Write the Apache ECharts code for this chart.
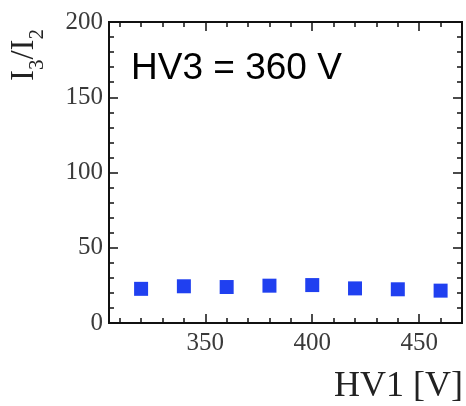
<!DOCTYPE html>
<html>
<head>
<meta charset="utf-8">
<script src="https://cdn.jsdelivr.net/npm/echarts@6/dist/echarts.min.js"></script>
<style>
html,body{margin:0;padding:0;background:#fff;}
#chart{width:466px;height:406px;}
</style>
</head>
<body>
<div id="chart"></div>
<script>
// Data
var hv1 = [320, 340, 360, 380, 400, 420, 440, 460];
var ratio = [22.7, 24.4, 23.9, 24.8, 25.2, 23.0, 22.4, 21.5];
var xMajorTicks = [350, 400, 450];
var xMinorTicks = [310, 320, 330, 340, 360, 370, 380, 390, 410, 420, 430, 440, 460, 470];
var annotation = 'HV3 = 360 V';
var xTitle = 'HV1 [V]';
var yTitle = '{i|I}{s|3}{i|/I}{s|2}';

var chart = echarts.init(document.getElementById('chart'), null, {renderer: 'canvas'});
var serif = 'Liberation Serif';
var tickStyle = {color: '#111', width: 1.5};
var labelFont = {fontFamily: serif, fontSize: 25, color: '#3a3a3a'};

function gridDef() {
  return {left: 109, top: 22, width: 353, height: 301, containLabel: false};
}
function xVisible(g, pos, ticks, len, showLabel) {
  return {
    gridIndex: g, type: 'value', position: pos, min: 305, max: 470,
    axisLine: {show: true, onZero: false, lineStyle: {color: '#111', width: 2}},
    axisTick: {show: true, inside: true, length: len, customValues: ticks, lineStyle: tickStyle},
    axisLabel: showLabel ? Object.assign({show: true, customValues: xMajorTicks, margin: 8}, labelFont) : {show: false},
    splitLine: {show: false}
  };
}
function yVisible(g, pos, showLabel) {
  return {
    gridIndex: g, type: 'value', position: pos, min: 0, max: 200, interval: 50,
    axisLine: {show: true, onZero: false, lineStyle: {color: '#111', width: 2}},
    axisTick: {show: true, inside: true, length: 9, lineStyle: tickStyle},
    minorTick: {show: true, splitNumber: 5, length: 5, lineStyle: tickStyle},
    axisLabel: showLabel ? Object.assign({show: true, margin: 6}, labelFont) : {show: false},
    splitLine: {show: false}, minorSplitLine: {show: false}
  };
}
function xHidden(g) {
  return {gridIndex: g, type: 'value', min: 305, max: 470,
    axisLine: {show: false, onZero: false}, axisTick: {show: false}, axisLabel: {show: false}, splitLine: {show: false}};
}
function yHidden(g) {
  return {gridIndex: g, type: 'value', min: 0, max: 200,
    axisLine: {show: false, onZero: false}, axisTick: {show: false}, axisLabel: {show: false}, splitLine: {show: false}};
}

var grids = [gridDef(), gridDef(), gridDef(), gridDef(), gridDef(),
  {left: 109, top: 0, width: 353, height: 110, containLabel: false}];
var yNameAxis = yHidden(5);
yNameAxis.name = yTitle;
yNameAxis.nameLocation = 'middle';
yNameAxis.nameRotate = 90;
yNameAxis.nameGap = 78;
yNameAxis.nameTextStyle = {
  rich: {
    i: {fontFamily: serif, fontSize: 33, color: '#222', lineHeight: 36, verticalAlign: 'bottom'},
    s: {fontFamily: serif, fontSize: 21, color: '#222', lineHeight: 36, verticalAlign: 'bottom', padding: [0, 0, -7, 0]}
  }
};

chart.setOption({
  animation: false,
  backgroundColor: '#fff',
  title: [
    {text: annotation, left: 131, top: 50, padding: 0,
      textStyle: {fontFamily: 'Liberation Sans', fontSize: 37, fontWeight: 'normal', color: '#000'}},
    {text: xTitle, right: 3, top: 369, padding: 0,
      textStyle: {fontFamily: serif, fontSize: 36, fontWeight: 'normal', color: '#222'}}
  ],
  grid: grids,
  xAxis: [
    xVisible(0, 'bottom', xMajorTicks, 9, true),
    xVisible(1, 'top', xMajorTicks, 9, false),
    xVisible(2, 'bottom', xMinorTicks, 5, false),
    xVisible(3, 'top', xMinorTicks, 5, false),
    xHidden(4),
    xHidden(5)
  ],
  yAxis: [
    yVisible(0, 'left', true),
    yHidden(1),
    yHidden(2),
    yHidden(3),
    yVisible(4, 'right', false),
    yNameAxis
  ],
  series: [{
    type: 'scatter',
    xAxisIndex: 0, yAxisIndex: 0,
    symbol: 'rect', symbolSize: 14,
    itemStyle: {color: '#2040f0', opacity: 1},
    data: hv1.map(function (x, i) { return [x, ratio[i]]; })
  }]
});
</script>
</body>
</html>
